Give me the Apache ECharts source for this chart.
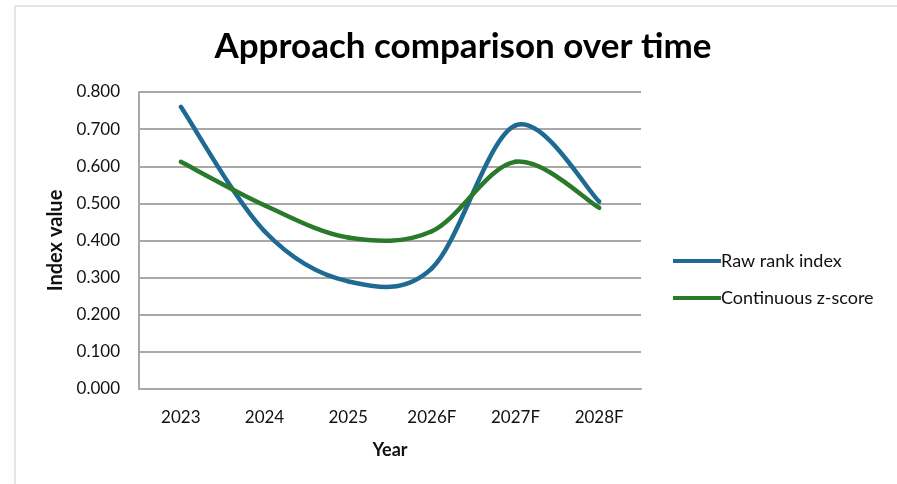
<!DOCTYPE html>
<html>
<head>
<meta charset="utf-8">
<script src="https://cdn.jsdelivr.net/npm/echarts@6/dist/echarts.min.js"></script>
<style>
  html, body { margin: 0; padding: 0; background: #ffffff; }
  #chart { width: 897px; height: 484px; }
</style>
</head>
<body>
<div id="chart"></div>
<script>
// Years on the category axis
const years = ['2023', '2024', '2025', '2026F', '2027F', '2028F'];

// Index values per approach
const rawRankIndex = [0.760, 0.425, 0.290, 0.325, 0.710, 0.505];
const continuousZScore = [0.612, 0.495, 0.408, 0.425, 0.612, 0.488];

const seriesNames = ['Raw rank index', 'Continuous z-score'];
const seriesColors = ['#1f6a92', '#2a7a2c'];

const font = 'Lato, "Open Sans", "Liberation Sans", sans-serif';

// Cardinal (Catmull-Rom) smoothing, drawn one bezier segment per point,
// so the curve may overshoot between points like spreadsheet smoothed lines.
function smoothSegment(values, color) {
  return function (params, api) {
    const i = params.dataIndex;
    const n = values.length;
    if (i >= n - 1) return null;
    const pt = k => api.coord([Math.max(0, Math.min(n - 1, k)), values[Math.max(0, Math.min(n - 1, k))]]);
    const p0 = pt(i - 1), p1 = pt(i), p2 = pt(i + 1), p3 = pt(i + 2);
    return {
      type: 'bezierCurve',
      shape: {
        x1: p1[0], y1: p1[1],
        x2: p2[0], y2: p2[1],
        cpx1: p1[0] + (p2[0] - p0[0]) / 6,
        cpy1: p1[1] + (p2[1] - p0[1]) / 6,
        cpx2: p2[0] - (p3[0] - p1[0]) / 6,
        cpy2: p2[1] - (p3[1] - p1[1]) / 6
      },
      style: { stroke: color, lineWidth: 4.5, fill: null, lineCap: 'round' },
      silent: true
    };
  };
}

const chart = echarts.init(document.getElementById('chart'), null, { renderer: 'canvas' });

chart.setOption({
  backgroundColor: '#ffffff',
  animation: false,
  title: {
    text: 'Approach comparison over time',
    left: 458,
    top: 24,
    textAlign: 'center',
    textStyle: { fontFamily: font, fontWeight: 'bold', fontSize: 35, color: '#000000' }
  },
  legend: {
    orient: 'vertical',
    left: 668,
    top: 247,
    itemGap: 19,
    itemWidth: 48,
    itemHeight: 4,
    icon: 'rect',
    textStyle: { fontFamily: font, fontSize: 18, color: '#111111', padding: [0, 0, 0, -5] },
    data: seriesNames
  },
  grid: { left: 139, right: 256, top: 92, bottom: 95, containLabel: false },
  xAxis: {
    type: 'category',
    data: years,
    boundaryGap: true,
    name: 'Year',
    nameLocation: 'middle',
    nameGap: 52,
    nameTextStyle: { fontFamily: font, fontWeight: 'bold', fontSize: 18, color: '#111111' },
    axisLine: { lineStyle: { color: '#a8a8a8', width: 2 } },
    axisTick: { show: false },
    axisLabel: { fontFamily: font, fontSize: 17, color: '#111111', margin: 20 }
  },
  yAxis: {
    type: 'value',
    min: 0,
    max: 0.8,
    interval: 0.1,
    name: 'Index value',
    nameLocation: 'middle',
    nameGap: 71,
    nameRotate: 90,
    nameTextStyle: { fontFamily: font, fontWeight: 'bold', fontSize: 20, color: '#111111' },
    axisLine: { show: true, lineStyle: { color: '#a8a8a8', width: 2 } },
    axisTick: { show: false },
    axisLabel: {
      fontFamily: font, fontSize: 17, color: '#111111', margin: 19,
      formatter: v => v.toFixed(3)
    },
    splitLine: { lineStyle: { color: '#a8a8a8', width: 2 } }
  },
  series: [
    {
      name: seriesNames[0],
      type: 'custom',
      data: rawRankIndex.map((v, i) => [i, v]),
      encode: { x: 0, y: 1 },
      itemStyle: { color: seriesColors[0] },
      renderItem: smoothSegment(rawRankIndex, seriesColors[0])
    },
    {
      name: seriesNames[1],
      type: 'custom',
      data: continuousZScore.map((v, i) => [i, v]),
      encode: { x: 0, y: 1 },
      itemStyle: { color: seriesColors[1] },
      renderItem: smoothSegment(continuousZScore, seriesColors[1])
    }
  ],
  graphic: [
    { type: 'rect', shape: { x: 14, y: 5, width: 897, height: 2 }, style: { fill: '#e6e6e6' }, silent: true },
    { type: 'rect', shape: { x: 14, y: 5, width: 2, height: 484 }, style: { fill: '#e6e6e6' }, silent: true }
  ]
});
</script>
</body>
</html>
